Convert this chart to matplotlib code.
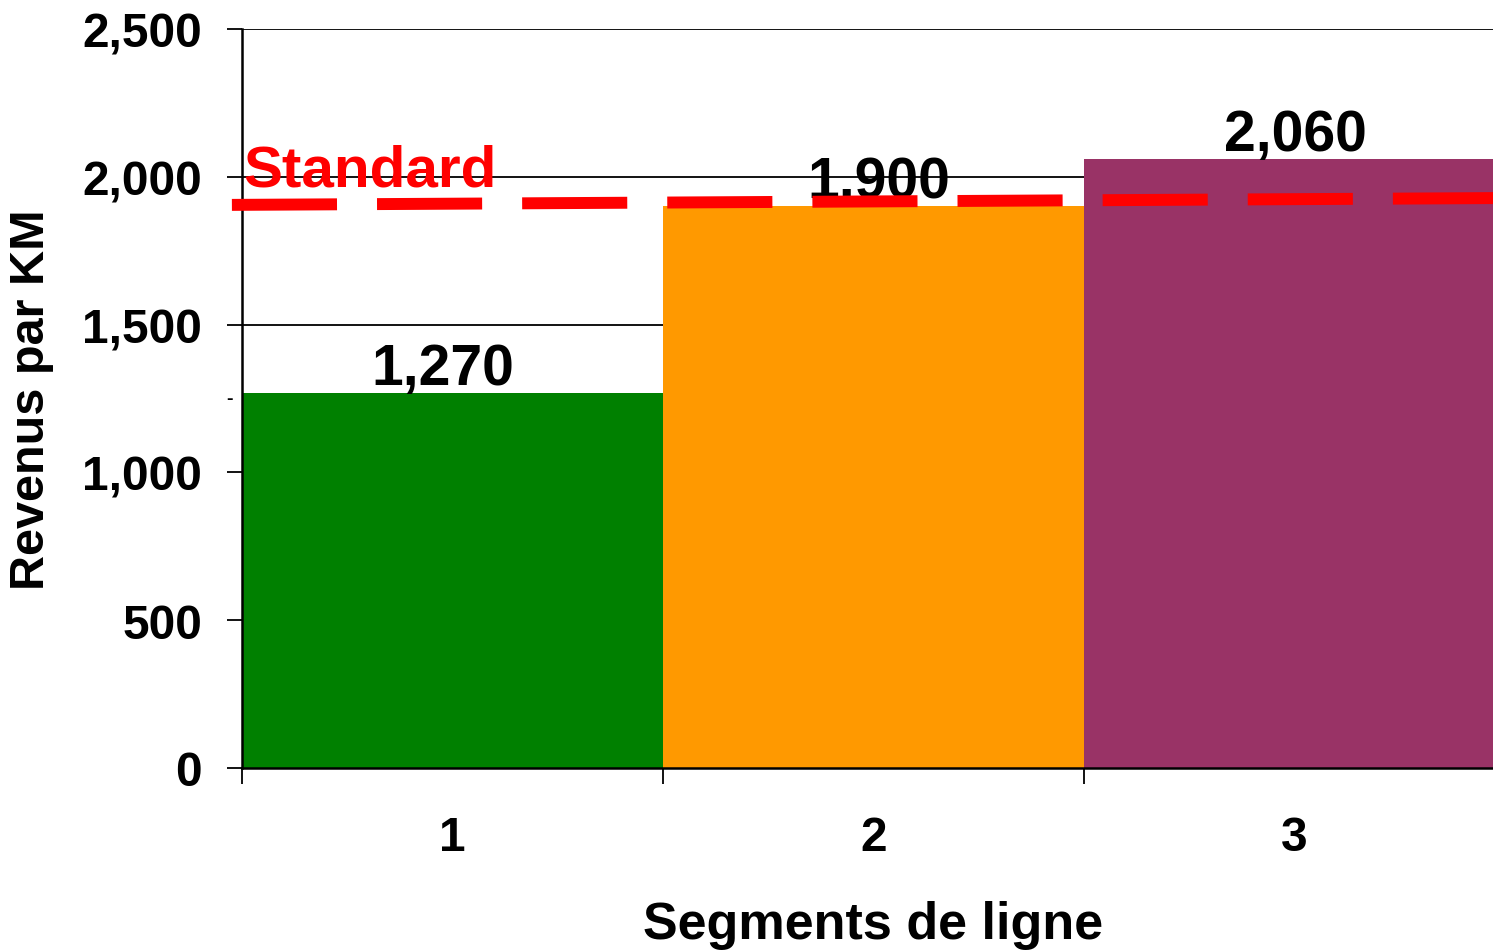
import matplotlib
matplotlib.use("Agg")
import matplotlib.pyplot as plt
from matplotlib.ticker import FuncFormatter

plt.rcParams["font.family"] = ["Liberation Sans", "DejaVu Sans"]
plt.rcParams["font.weight"] = "bold"

segments = ["1", "2", "3"]
revenue = [1270, 1900, 2060]
bar_colors = ["#008000", "#FF9900", "#993366"]

# dashed "Standard" reference line, slightly sloped in the original
standard_x = [-0.024, 2.972]
standard_y = [1905, 1928]
standard_label = "Standard"

y_ticks = [0, 500, 1000, 1500, 2000, 2500]

fig = plt.figure(figsize=(14.93, 9.53), dpi=100)
ax = fig.add_axes([242 / 1493, 1 - 769 / 953, 1263 / 1493, 739 / 953])

positions = [i + 0.5 for i in range(len(segments))]
ax.bar(positions, revenue, width=1.0, color=bar_colors, zorder=2)

label_shift = [-7, 4, 1]
for x, v, dx in zip(positions, revenue, label_shift):
    ax.annotate(f"{v:,}", xy=(x, v), xytext=(dx, 6.5), textcoords="offset points",
                ha="center", va="baseline", fontsize=41, fontweight="bold",
                color="black", zorder=3)

ax.plot(standard_x, standard_y, color="#FF0000", linewidth=8.6,
        linestyle=(0, (8.8, 3.35)), solid_capstyle="butt",
        dash_capstyle="butt", clip_on=False, zorder=4)
ax.text(0.004, 1970, standard_label, color="#FF0000", fontsize=42,
        fontweight="bold", ha="left", va="baseline", zorder=4)
ax.text(-0.03, 1250, "-", fontsize=14, ha="center", va="center",
        clip_on=False)

ax.set_xlim(0, 3)
ax.set_ylim(0, 2500)
ax.set_yticks(y_ticks)
ax.yaxis.set_major_formatter(FuncFormatter(lambda v, p: f"{int(v):,}"))
ax.set_xticks([0, 1, 2, 3])
ax.set_xticklabels([])
ax.set_xticks(positions, minor=True)
ax.set_xticklabels(segments, minor=True)

ax.tick_params(axis="y", length=10.8, width=1.3, pad=18, labelsize=34.5)
ax.tick_params(axis="x", which="major", length=11.5, width=1.3)
ax.tick_params(axis="x", which="minor", length=0, pad=34, labelsize=34.5)
for lab in ax.get_yticklabels() + ax.get_xticklabels(minor=True):
    lab.set_fontweight("bold")

ax.yaxis.grid(True, color="black", linewidth=1.3)
ax.set_axisbelow(True)

ax.spines["top"].set_visible(False)
ax.spines["right"].set_visible(False)
ax.spines["left"].set_linewidth(1.8)
ax.spines["bottom"].set_linewidth(1.8)

ax.set_xlabel("Segments de ligne", fontsize=37.5, fontweight="bold", labelpad=29)
ax.set_ylabel("Revenus par KM", fontsize=35, fontweight="bold", labelpad=20)

fig.savefig("out.png", dpi=100)
